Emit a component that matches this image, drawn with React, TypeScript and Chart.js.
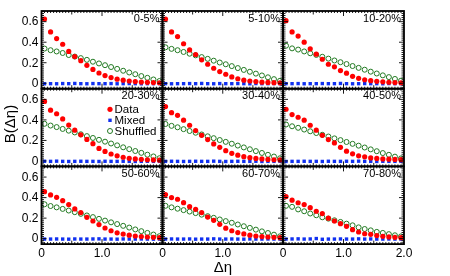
import { useEffect, useRef } from "react";
import { Chart, registerables } from "chart.js";

Chart.register(...registerables);

// ---------- data ----------
const etaValues = [0.05, 0.15, 0.25, 0.35, 0.45, 0.55, 0.65, 0.75, 0.85, 0.95, 1.05, 1.15, 1.25, 1.35, 1.45, 1.55, 1.65, 1.75, 1.85, 1.95];

const centralities = ["0-5%", "5-10%", "10-20%", "20-30%", "30-40%", "40-50%", "50-60%", "60-70%", "70-80%"];

const data0to5 = [0.625, 0.5, 0.435, 0.38, 0.31, 0.26, 0.22, 0.175, 0.135, 0.1, 0.075, 0.055, 0.04, 0.03, 0.022, 0.016, 0.012, 0.009, 0.007, 0.005];
const data5to10 = [0.625, 0.5, 0.455, 0.385, 0.325, 0.28, 0.228, 0.185, 0.146, 0.114, 0.088, 0.062, 0.044, 0.03, 0.022, 0.016, 0.011, 0.008, 0.006, 0.004];
const data10to20 = [0.61, 0.5, 0.46, 0.4, 0.335, 0.283, 0.234, 0.185, 0.16, 0.124, 0.098, 0.068, 0.048, 0.034, 0.025, 0.019, 0.014, 0.01, 0.007, 0.005];
const data20to30 = [0.58, 0.495, 0.46, 0.41, 0.35, 0.3, 0.255, 0.21, 0.168, 0.122, 0.093, 0.068, 0.05, 0.036, 0.026, 0.02, 0.016, 0.012, 0.01, 0.008];
const data30to40 = [0.53, 0.47, 0.445, 0.397, 0.348, 0.296, 0.25, 0.208, 0.166, 0.133, 0.1, 0.074, 0.056, 0.042, 0.032, 0.025, 0.02, 0.015, 0.012, 0.01];
const data40to50 = [0.504, 0.452, 0.426, 0.397, 0.348, 0.3, 0.25, 0.208, 0.176, 0.133, 0.095, 0.07, 0.05, 0.04, 0.03, 0.025, 0.02, 0.017, 0.015, 0.013];
const data50to60 = [0.458, 0.426, 0.403, 0.37, 0.332, 0.29, 0.254, 0.208, 0.172, 0.137, 0.104, 0.077, 0.057, 0.045, 0.034, 0.026, 0.02, 0.016, 0.013, 0.01];
const data60to70 = [0.43, 0.4, 0.384, 0.351, 0.312, 0.286, 0.254, 0.21, 0.179, 0.14, 0.102, 0.077, 0.059, 0.046, 0.034, 0.026, 0.02, 0.016, 0.013, 0.01];
const data70to80 = [0.41, 0.375, 0.35, 0.332, 0.302, 0.267, 0.244, 0.2, 0.172, 0.146, 0.12, 0.088, 0.065, 0.048, 0.042, 0.03, 0.023, 0.017, 0.013, 0.01];

const shuffled0to5 = [0.338, 0.322, 0.31, 0.295, 0.275, 0.26, 0.245, 0.228, 0.21, 0.193, 0.176, 0.158, 0.14, 0.122, 0.105, 0.088, 0.07, 0.053, 0.037, 0.022];
const shuffled5to10 = [0.35, 0.335, 0.322, 0.305, 0.288, 0.272, 0.255, 0.238, 0.22, 0.202, 0.185, 0.167, 0.148, 0.13, 0.112, 0.094, 0.076, 0.058, 0.04, 0.024];
const shuffled10to20 = [0.366, 0.34, 0.328, 0.31, 0.292, 0.276, 0.258, 0.24, 0.222, 0.205, 0.187, 0.168, 0.15, 0.132, 0.113, 0.095, 0.077, 0.06, 0.042, 0.025];
const shuffled20to30 = [0.362, 0.345, 0.33, 0.312, 0.295, 0.278, 0.26, 0.242, 0.224, 0.206, 0.188, 0.17, 0.152, 0.133, 0.115, 0.097, 0.079, 0.061, 0.044, 0.027];
const shuffled30to40 = [0.36, 0.342, 0.328, 0.31, 0.292, 0.275, 0.258, 0.24, 0.222, 0.204, 0.186, 0.168, 0.15, 0.132, 0.114, 0.096, 0.078, 0.06, 0.043, 0.026];
const shuffled40to50 = [0.355, 0.338, 0.323, 0.306, 0.289, 0.272, 0.255, 0.238, 0.22, 0.203, 0.185, 0.167, 0.149, 0.131, 0.113, 0.095, 0.077, 0.06, 0.042, 0.025];
const shuffled50to60 = [0.335, 0.318, 0.305, 0.29, 0.274, 0.258, 0.242, 0.226, 0.21, 0.193, 0.176, 0.159, 0.142, 0.125, 0.108, 0.09, 0.073, 0.056, 0.04, 0.024];
const shuffled60to70 = [0.32, 0.305, 0.292, 0.278, 0.264, 0.249, 0.234, 0.219, 0.203, 0.187, 0.171, 0.155, 0.138, 0.121, 0.105, 0.088, 0.071, 0.055, 0.039, 0.023];
const shuffled70to80 = [0.32, 0.31, 0.285, 0.267, 0.245, 0.228, 0.208, 0.195, 0.179, 0.163, 0.146, 0.13, 0.11, 0.094, 0.081, 0.066, 0.056, 0.044, 0.033, 0.022];

const mixed0to5 = [-0.005, -0.004, -0.005, -0.003, -0.004, -0.002, -0.004, -0.005, -0.003, -0.004, -0.004, -0.003, -0.005, -0.004, -0.003, -0.004, -0.005, -0.004, -0.004, -0.003];
const mixed5to10 = [-0.004, -0.005, -0.004, -0.004, -0.003, -0.004, -0.002, -0.004, -0.005, -0.003, -0.004, -0.004, -0.003, -0.004, -0.005, -0.003, -0.004, -0.004, -0.003, -0.004];
const mixed10to20 = [-0.004, -0.004, -0.003, -0.005, -0.004, -0.004, -0.003, -0.004, -0.004, -0.002, -0.004, -0.005, -0.004, -0.003, -0.004, -0.004, -0.005, -0.003, -0.004, -0.004];
const mixed20to30 = [-0.003, -0.004, -0.002, -0.004, -0.005, -0.004, -0.003, -0.004, -0.004, -0.005, -0.003, -0.004, -0.004, -0.003, -0.004, -0.005, -0.004, -0.003, -0.004, -0.004];
const mixed30to40 = [-0.004, -0.003, -0.004, -0.005, -0.004, -0.003, -0.004, -0.004, -0.002, -0.004, -0.005, -0.004, -0.003, -0.004, -0.004, -0.003, -0.005, -0.004, -0.004, -0.003];
const mixed40to50 = [-0.005, -0.004, -0.004, -0.003, -0.004, -0.004, -0.005, -0.003, -0.004, -0.004, -0.003, -0.004, -0.002, -0.004, -0.004, -0.005, -0.003, -0.004, -0.004, -0.004];
const mixed50to60 = [-0.004, -0.004, -0.003, -0.004, -0.005, -0.003, -0.004, -0.004, -0.003, -0.002, -0.004, -0.004, -0.005, -0.003, -0.004, -0.004, -0.003, -0.004, -0.005, -0.004];
const mixed60to70 = [-0.004, -0.003, -0.004, -0.004, -0.003, -0.005, -0.004, -0.004, -0.002, -0.004, -0.004, -0.003, -0.004, -0.005, -0.003, -0.004, -0.004, -0.003, -0.004, -0.004];
const mixed70to80 = [-0.004, -0.003, -0.002, -0.004, -0.003, 0.001, -0.006, -0.004, -0.004, -0.003, -0.004, -0.004, -0.002, -0.004, -0.003, -0.004, -0.004, -0.003, -0.004, -0.004];

const dataSeries = [data0to5, data5to10, data10to20, data20to30, data30to40, data40to50, data50to60, data60to70, data70to80];
const mixedSeries = [mixed0to5, mixed5to10, mixed10to20, mixed20to30, mixed30to40, mixed40to50, mixed50to60, mixed60to70, mixed70to80];
const shuffledSeries = [shuffled0to5, shuffled5to10, shuffled10to20, shuffled20to30, shuffled30to40, shuffled40to50, shuffled50to60, shuffled60to70, shuffled70to80];

const seriesNames = ["Data", "Mixed", "Shuffled"];

const yTickValues = [0, 0.2, 0.4, 0.6];
const yTickLabels = ["0", "0.2", "0.4", "0.6"];
const xTickValues = [0, 1, 2];
const xTickLabels = ["0", "1.0", "2.0"];

const xTitle = "Δη";
const yTitle = "B(Δη)";

// ---------- layout / style ----------
const W = 450;
const H = 276;
const colEdges = [41.5, 162.5, 283, 404];
const rowEdges = [11, 88.7, 166.4, 244.1];
const X_MIN = 0;
const X_MAX = 2;
const Y_MIN = -0.053;
const Y_MAX = 0.704;
const FONT = "'Liberation Sans', Arial, Helvetica, sans-serif";
const RED = "#ff0000";
const BLUE = "#1030f0";
const GREEN = "#227a22";

const decoPlugin = {
  id: "deco",
  afterDatasetsDraw(chart: any, _args: any, opts: any) {
    const { ctx, chartArea: a } = chart;
    const xs = chart.scales.x;
    const ys = chart.scales.y;
    const { row, col, label, showLegend, showYTitle, showXTitle } = opts;
    ctx.save();
    ctx.strokeStyle = "#000";
    ctx.lineWidth = 0.9;
    ctx.beginPath();
    for (let k = -2; k <= 35; k++) {
      const v = k * 0.02;
      if (v < Y_MIN || v > Y_MAX) continue;
      const py = ys.getPixelForValue(v);
      const len = k % 10 === 0 ? 5 : 2.5;
      ctx.moveTo(a.left, py);
      ctx.lineTo(a.left + len, py);
      ctx.moveTo(a.right, py);
      ctx.lineTo(a.right - len, py);
    }
    for (let k = 1; k < 40; k++) {
      const v = k * 0.05;
      const px = xs.getPixelForValue(v);
      const len = k % 20 === 0 ? 5 : k % 10 === 0 ? 3.5 : 2;
      ctx.moveTo(px, a.bottom);
      ctx.lineTo(px, a.bottom - len);
      ctx.moveTo(px, a.top);
      ctx.lineTo(px, a.top + len);
    }
    ctx.stroke();
    ctx.lineWidth = 1.8;
    ctx.strokeRect(a.left, a.top, a.right - a.left, a.bottom - a.top);

    ctx.fillStyle = "#000";
    // centrality label
    ctx.font = `11px ${FONT}`;
    ctx.textAlign = "right";
    ctx.textBaseline = "middle";
    ctx.fillText(label, a.right - 3, a.top + 7.5);

    // y tick labels
    if (col === 0) {
      ctx.font = `12px ${FONT}`;
      ctx.textAlign = "right";
      ctx.textBaseline = "middle";
      yTickValues.forEach((v, i) => {
        ctx.fillText(yTickLabels[i], a.left - 3, ys.getPixelForValue(v) + 0.5);
      });
    }
    // x tick labels
    if (row === 2) {
      ctx.font = `12px ${FONT}`;
      ctx.textAlign = "center";
      ctx.textBaseline = "middle";
      xTickValues.forEach((v, i) => {
        if (v === X_MAX && col !== 2) return;
        ctx.fillText(xTickLabels[i], xs.getPixelForValue(v), a.bottom + 10);
      });
    }
    if (showYTitle) {
      ctx.save();
      ctx.font = `15px ${FONT}`;
      ctx.textAlign = "center";
      ctx.textBaseline = "middle";
      ctx.translate(11, 124);
      ctx.rotate(-Math.PI / 2);
      ctx.fillText(yTitle, 0, 0);
      ctx.restore();
    }
    if (showXTitle) {
      ctx.font = `15px ${FONT}`;
      ctx.textAlign = "center";
      ctx.textBaseline = "middle";
      ctx.fillText(xTitle, 223, 268);
    }
    if (showLegend) {
      const lx = a.left + 68.5;
      const tx = a.left + 73;
      const ly = [a.top + 20.6, a.top + 31.6, a.top + 42.3];
      ctx.font = `11.5px ${FONT}`;
      ctx.textAlign = "left";
      ctx.textBaseline = "middle";
      ctx.fillStyle = RED;
      ctx.beginPath();
      ctx.arc(lx, ly[0], 2.6, 0, Math.PI * 2);
      ctx.fill();
      ctx.fillStyle = BLUE;
      ctx.fillRect(lx - 1.7, ly[1] - 1.7, 3.4, 3.4);
      ctx.strokeStyle = GREEN;
      ctx.lineWidth = 1;
      ctx.beginPath();
      ctx.arc(lx, ly[2], 2.5, 0, Math.PI * 2);
      ctx.stroke();
      ctx.fillStyle = "#000";
      seriesNames.forEach((n, i) => ctx.fillText(n, tx, ly[i] + 0.5));
    }
    ctx.restore();
  },
};

function Panel({ index }: { index: number }) {
  const ref = useRef<HTMLCanvasElement | null>(null);
  useEffect(() => {
    const row = Math.floor(index / 3);
    const col = index % 3;
    const toPts = (arr: number[]) => etaValues.map((x, i) => ({ x, y: arr[i] }));
    const chart = new Chart(ref.current as HTMLCanvasElement, {
      type: "scatter",
      data: {
        datasets: [
          {
            label: seriesNames[0],
            data: toPts(dataSeries[index]),
            pointStyle: "circle",
            pointRadius: 2.6,
            backgroundColor: RED,
            borderColor: RED,
            borderWidth: 0,
            order: 0,
          },
          {
            label: seriesNames[1],
            data: toPts(mixedSeries[index]),
            pointStyle: "rect",
            pointRadius: 2.4,
            backgroundColor: BLUE,
            borderColor: BLUE,
            borderWidth: 0,
            order: 2,
          },
          {
            label: seriesNames[2],
            data: toPts(shuffledSeries[index]),
            pointStyle: "circle",
            pointRadius: 2.5,
            backgroundColor: "rgba(0,0,0,0)",
            borderColor: GREEN,
            borderWidth: 1,
            order: 1,
          },
        ],
      },
      options: {
        animation: false,
        responsive: false,
        events: [],
        clip: false,
        layout: {
          padding: {
            left: colEdges[col],
            right: W - colEdges[col + 1],
            top: rowEdges[row],
            bottom: H - rowEdges[row + 1],
          },
        },
        scales: {
          x: { type: "linear", min: X_MIN, max: X_MAX, display: false },
          y: { type: "linear", min: Y_MIN, max: Y_MAX, display: false },
        },
        plugins: {
          legend: { display: false },
          tooltip: { enabled: false },
          deco: {
            row,
            col,
            label: centralities[index],
            showLegend: index === 3,
            showYTitle: index === 3,
            showXTitle: index === 7,
          },
        },
      } as any,
      plugins: [decoPlugin as any],
    });
    return () => chart.destroy();
  }, [index]);
  return (
    <canvas
      ref={ref}
      width={W}
      height={H}
      style={{ position: "absolute", left: 0, top: 0, width: W, height: H }}
    />
  );
}

export default function App() {
  return (
    <div style={{ position: "fixed", left: 0, top: 0, width: W, height: H, background: "#fff" }}>
      {centralities.map((_, i) => (
        <Panel key={i} index={i} />
      ))}
    </div>
  );
}
